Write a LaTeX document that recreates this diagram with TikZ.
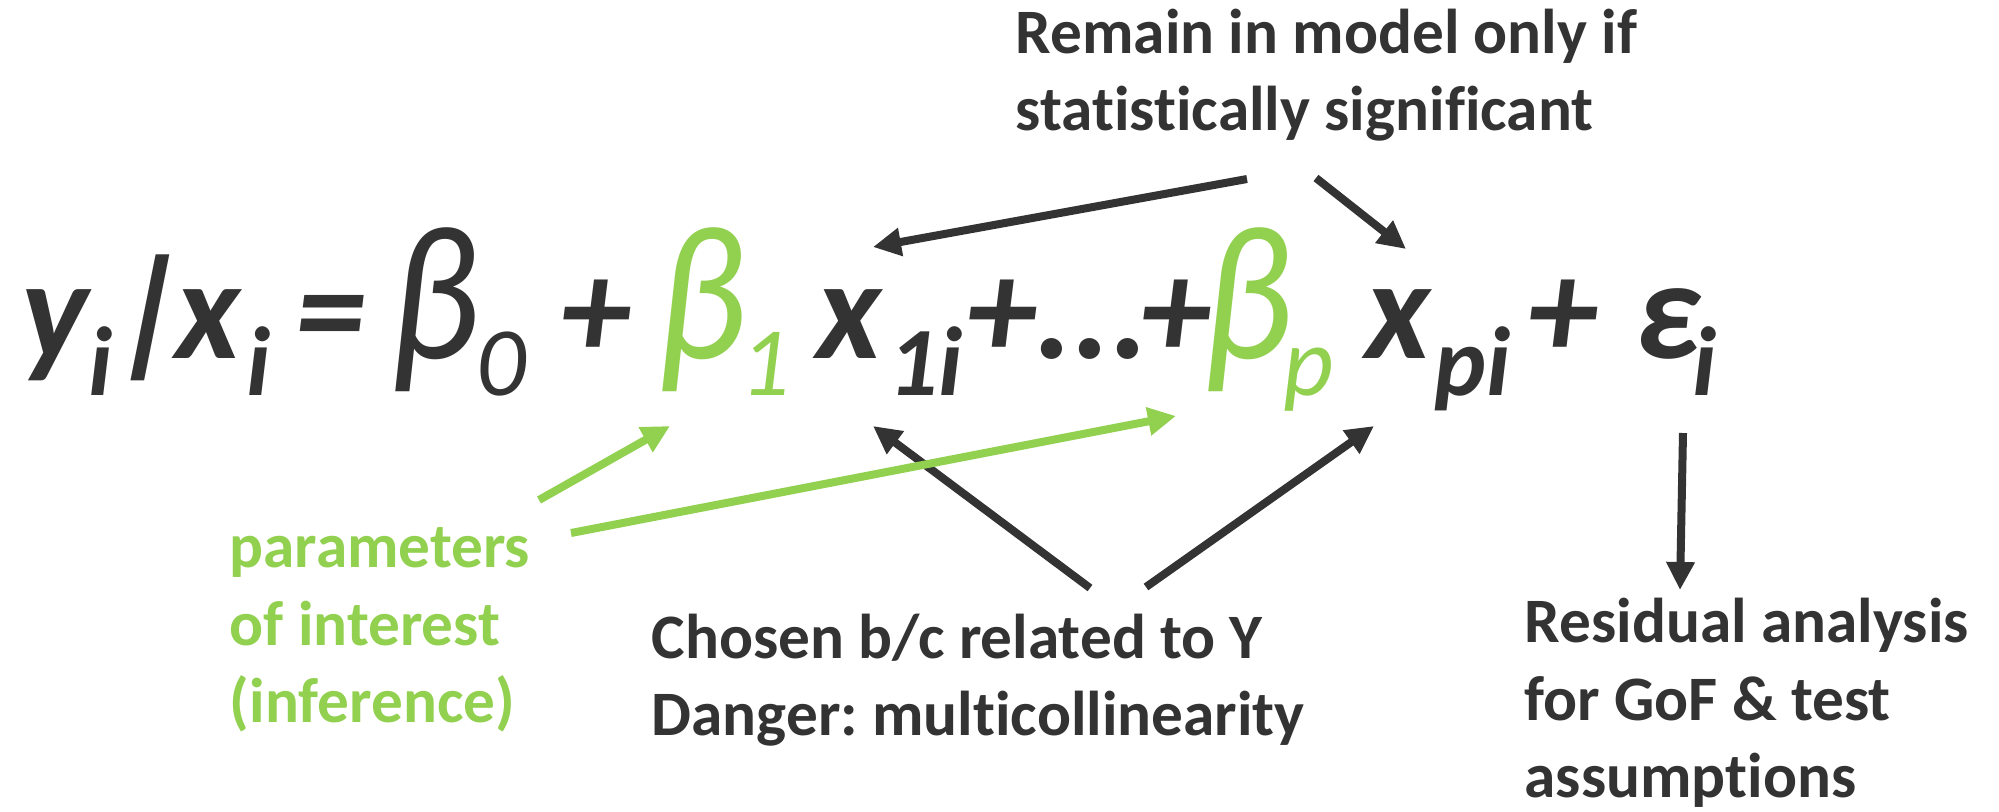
\documentclass[tikz,border=0pt]{standalone}
\usepackage{fontspec}
\setmainfont{Carlito}[Ligatures=NoCommon]
\definecolor{eqgray}{RGB}{51,51,51}
\definecolor{eqgreen}{RGB}{146,208,80}
\usetikzlibrary{arrows.meta}
\frenchspacing

\newcommand{\bigbeta}{\scalebox{1.2}[1.35]{β}}

\begin{document}
\begin{tikzpicture}[x=0.01cm,y=-0.01cm,
  big/.style={font=\fontsize{40.4}{40.4}\selectfont\bfseries\itshape,text=eqgray,anchor=base west,inner sep=0pt},
  bet/.style={font=\fontsize{40.4}{40.4}\selectfont\itshape,text=eqgray,anchor=base west,inner sep=0pt},
  sub/.style={font=\fontsize{27.9}{27.9}\selectfont\bfseries\itshape,text=eqgray,anchor=base west,inner sep=0pt},
  subl/.style={font=\fontsize{27.9}{27.9}\selectfont\itshape,text=eqgray,anchor=base west,inner sep=0pt},
  note/.style={font=\fontsize{18}{21.9}\selectfont\bfseries,text=eqgray,align=left,anchor=base west,inner sep=0pt},
  arr/.style={line width=0.08cm,draw=eqgray,-{Triangle[length=0.28cm,width=0.27cm]}},
  garr/.style={arr,draw=eqgreen}]
  \useasboundingbox (0,0) rectangle (1999,811);
  %% The model equation
  \node[big] (y) at (21,358) {y};
  \node[sub] (yi) at (88,395) {i};
  \begin{scope}[shift={(112,358)},xslant=0.2]
    \node[big,transform shape] (bar) at (0,0) {|};
  \end{scope}
  \node[big] (x) at (175,358) {x};
  \node[sub] (xi) at (246,395) {i};
  \node[big] (eq) at (295,358) {=};
  \node[bet] (b0) at (389,358) {\bigbeta};
  \node[subl] (b0s) at (476,395) {0};
  \node[big] (pl1) at (560,358) {+};
  \node[bet,text=eqgreen] (b1) at (656,358) {\bigbeta};
  \node[subl,text=eqgreen] (b1s) at (740,395) {1};
  \node[big] (x1) at (816,358) {x};
  \node[sub] (x1s) at (888,395) {1i};
  \node[big] (pl2) at (966,358) {+};
  \node[big] (dots) at (1035,358) {...};
  \node[big] (pl3) at (1140,358) {+};
  \node[bet,text=eqgreen] (bp) at (1202,358) {\bigbeta};
  \node[subl,text=eqgreen] (bps) at (1283,395) {p};
  \node[big] (xp) at (1365,358) {x};
  \node[sub] (xps) at (1434,395) {pi};
  \node[big] (pl4) at (1527,358) {+};
  \node[big] (eps) at (1635,358) {ε};
  \node[sub] (epss) at (1692,395) {i};
  %% Notes round it (placed at the baseline of the last line)
  \node[note] (signif) at (1015,130) {Remain in model only if\\statistically significant};
  \node[note,text=eqgreen] (params) at (229,722) {parameters\\of interest\\(inference)};
  \node[note] (chosen) at (651,735) {Chosen b/c related to Y\\Danger: multicollinearity};
  \node[note] (resid) at (1524,797) {Residual analysis\\for GoF \& test\\assumptions};
  %% Arrow ends
  \coordinate (signif-l) at (1247,179);
  \coordinate (signif-r) at (1316,178);
  \coordinate (x1-top) at (873,247);
  \coordinate (xp-top) at (1406,249);
  \coordinate (params-a) at (539,500);
  \coordinate (params-b) at (571,533);
  \coordinate (b1-in) at (670,426);
  \coordinate (bp-in) at (1176,416);
  \coordinate (chosen-l) at (1090,588);
  \coordinate (chosen-r) at (1146,587);
  \coordinate (x1-bot) at (873,426);
  \coordinate (xp-bot) at (1374,426);
  \coordinate (eps-bot) at (1683,433);
  \coordinate (resid-top) at (1680,590);
  %% Arrows
  \draw[arr] (signif-l) -- (x1-top);
  \draw[arr] (signif-r) -- (xp-top);
  \draw[arr] (chosen-l) -- (x1-bot);
  \draw[arr] (chosen-r) -- (xp-bot);
  \draw[arr] (eps-bot) -- (resid-top);
  \draw[garr] (params-a) -- (b1-in);
  \draw[garr] (params-b) -- (bp-in);
\end{tikzpicture}
\end{document}
